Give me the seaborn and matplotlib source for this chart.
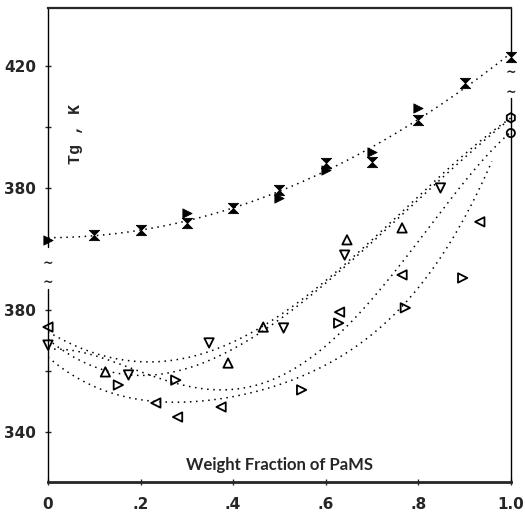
import numpy as np
import pandas as pd
import matplotlib
matplotlib.use("Agg")
import matplotlib.pyplot as plt
import seaborn as sns

# upper curve (read against the upper "380 / 420" labels)
upper_a_x = [0.1, 0.2, 0.3, 0.4, 0.5, 0.6, 0.7, 0.8, 0.9, 1.0]
upper_a_tg = [364.6, 366.2, 368.5, 373.4, 379.3, 388.2, 388.5, 402.3, 414.4, 423.0]
upper_b_x = [0.0, 0.3, 0.5, 0.6, 0.7, 0.8]
upper_b_tg = [363.0, 371.8, 376.7, 385.9, 391.8, 406.2]
UPPER_SHIFT = 40  # upper section is drawn 40 K above the lower scale

# lower data points (read against the lower "340 / 380" labels)
up_x = [0.124, 0.389, 0.465, 0.646, 0.765]
up_tg = [359.7, 362.6, 374.4, 403.0, 406.9]
down_x = [0.0, 0.174, 0.348, 0.509, 0.641, 0.848]
down_tg = [368.5, 358.7, 369.2, 374.1, 398.0, 420.0]
left_x = [0.0, 0.233, 0.28, 0.374, 0.63, 0.765, 0.933]
left_tg = [374.4, 349.5, 344.9, 348.2, 379.3, 391.5, 408.9]
right_x = [0.152, 0.276, 0.548, 0.628, 0.772, 0.896]
right_tg = [355.4, 357.0, 353.8, 375.7, 380.7, 390.5]
end_x = [1.0, 1.0]
end_tg = [443.0, 438.0]

# dotted curves
c1_x = [0, 0.2, 0.31, 0.48, 0.66, 0.775, 0.846, 0.917, 1.0]
c1_tg = [372.8, 363.5, 364.3, 375.7, 398.7, 412.8, 423.6, 433.4, 443.0]
c2_x = [0, 0.15, 0.25, 0.32, 0.48, 0.66, 0.85, 1.0]
c2_tg = [370.2, 360.0, 358.7, 361.5, 374.5, 397.5, 422.5, 443.0]
c3_x = [0, 0.15, 0.32, 0.45, 0.52, 0.666, 0.70, 0.845, 0.916, 1.0]
c3_tg = [367.5, 361.0, 356.4, 355.4, 359.3, 376.7, 383.3, 412.8, 424.9, 438.0]
c4_x = [0, 0.2, 0.35, 0.52, 0.666, 0.737, 0.845, 0.916, 0.959]
c4_tg = [364.3, 352.0, 348.2, 357.7, 367.9, 377.7, 396.4, 412.8, 430.2]

x_ticks = [0, 0.2, 0.4, 0.6, 0.8, 1.0]
x_labels = ["0", ".2", ".4", ".6", ".8", "1.0"]
y_ticks = [340, 380, 420, 460]
y_labels = ["340", "380", "380", "420"]

sns.set_style("ticks")
plt.rcParams['font.family'] = ['Lato', 'DejaVu Sans']

fig = plt.figure(figsize=(5.25, 5.17), dpi=100)
ax = fig.add_axes([0.0914, 0.0677, 0.8816, 0.9168])

dots = (0, (1, 3))
xs = np.linspace(0, 1, 200)

# upper fit
ux = np.array(upper_a_x + upper_b_x)
uy = np.array(upper_a_tg + upper_b_tg) + UPPER_SHIFT
p = np.polyfit(ux, uy, 2)
ax.plot(xs, np.polyval(p, xs), color='k', lw=1.1, ls=dots)

# lower curves
for cx, cy in [(c1_x, c1_tg), (c2_x, c2_tg), (c3_x, c3_tg), (c4_x, c4_tg)]:
    p = np.polyfit(cx, cy, 4)
    xx = np.linspace(0, max(cx), 200)
    sns.lineplot(x=xx, y=np.polyval(p, xx), ax=ax, color='k', lw=1.1,
                 linestyle=dots, estimator=None, sort=False)

hourglass = [(-1, 1), (1, 1), (-1, -1), (1, -1), (-1, 1)]
sns.scatterplot(x=upper_a_x, y=np.array(upper_a_tg) + UPPER_SHIFT, ax=ax,
                marker=hourglass, s=55, color='k', edgecolor='k', zorder=3,
                clip_on=False)
sns.scatterplot(x=upper_b_x, y=np.array(upper_b_tg) + UPPER_SHIFT, ax=ax,
                marker='>', s=45, color='k', edgecolor='k', zorder=3,
                clip_on=False)

for mx, my, mk in [(up_x, up_tg, '^'), (down_x, down_tg, 'v'),
                   (left_x, left_tg, '<'), (right_x, right_tg, '>')]:
    sns.scatterplot(x=mx, y=my, ax=ax, marker=mk, s=45, facecolor='none',
                    edgecolor='k', linewidth=1.3, zorder=3, clip_on=False)
ax.scatter(end_x[:1], end_tg[:1], marker='h', s=45, facecolor='none',
           edgecolor='k', linewidth=1.3, zorder=3, clip_on=False)
ax.scatter(end_x[1:], end_tg[1:], marker='o', s=35, facecolor='none',
           edgecolor='k', linewidth=1.3, zorder=3, clip_on=False)

ax.set_xlim(0, 1.0)
ax.set_ylim(323.6, 479)

# broken side axes
for s in ['left', 'right']:
    ax.spines[s].set_visible(False)
ax.spines['top'].set_linewidth(1.6)
ax.spines['bottom'].set_linewidth(2)
for x0, y0, y1 in [(0, 323.6, 387.0), (0, 400.5, 479), (1.0, 323.6, 449.5), (1.0, 464.3, 479)]:
    ax.plot([x0, x0], [y0, y1], color='k', lw=1, clip_on=False)
for x0, yy in [(0, 395.4), (0, 389.2), (1.0, 458.0), (1.0, 451.3)]:
    ax.text(x0, yy, '~', ha='center', va='center', fontsize=9,
            fontweight='bold', family='DejaVu Sans')

ax.set_xticks(x_ticks)
ax.set_xticklabels(x_labels)
ax.set_yticks(y_ticks)
ax.set_yticklabels(y_labels)
ax.set_yticks([360, 440], minor=True)
ax.tick_params(axis='both', which='both', direction='inout', length=5,
               width=1, labelsize=11)
ax.tick_params(axis='x', pad=8)
ax.tick_params(axis='y', pad=6)
for lab in ax.get_xticklabels() + ax.get_yticklabels():
    lab.set_fontweight('bold')
    lab.set_family('DejaVu Sans')

ax.set_xlabel('')
ax.set_ylabel('')
ax.text(0.5, 0.035, 'Weight Fraction of PaMS', transform=ax.transAxes,
        ha='center', va='center', fontsize=12, fontweight='bold')
ax.text(0.06, 0.734, 'Tg , K', transform=ax.transAxes, rotation=90,
        ha='center', va='center', fontsize=12, fontweight='bold',
        family='Liberation Mono')

fig.savefig('out.png', dpi=100)
